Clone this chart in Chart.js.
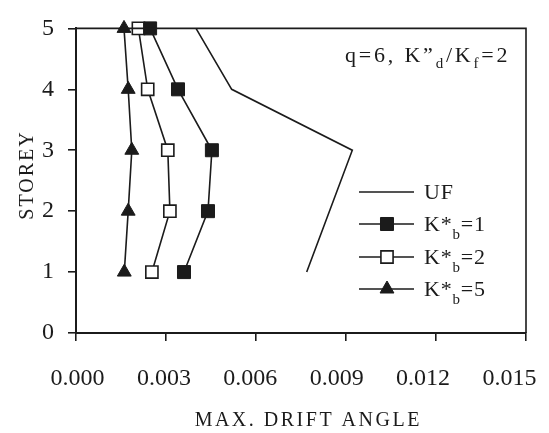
<!DOCTYPE html>
<html>
<head>
<meta charset="utf-8">
<script src="https://cdn.jsdelivr.net/npm/chart.js@4.4.1/dist/chart.umd.min.js"></script>
<style>
    html, body { margin: 0; padding: 0; background: #fff; }
    #chart { display: block; }
</style>
</head>
<body>
<canvas id="chart" width="549" height="433"></canvas>
<script>
// DATOS
const storeys = [1, 2, 3, 4, 5];
const driftUF = [0.00769, null, 0.00921, 0.00519, 0.00400];
const driftKb1 = [0.00360, 0.00440, 0.00453, 0.00340, 0.00247];
const driftKb2 = [0.00253, 0.00313, 0.00306, 0.00239, 0.00208];
const driftKb5 = [0.00161, 0.00174, 0.00186, 0.00174, 0.00160];

const xTickValues = [0, 0.003, 0.006, 0.009, 0.012, 0.015];
const xTickLabels = ["0.000", "0.003", "0.006", "0.009", "0.012", "0.015"];
const yTickValues = [0, 1, 2, 3, 4, 5];

// leyenda: texto, subindice, resto
const legendMain = ["UF", "K*", "K*", "K*"];
const legendSub = ["", "b", "b", "b"];
const legendTail = ["", "=1", "=2", "=5"];

const xTitle = "MAX. DRIFT ANGLE";
const yTitle = "STOREY";

const ink = "#1b1b1b";
const serif = '"Liberation Serif", "Times New Roman", serif';

// the printed labels sit a little closer together than the ticks
const xLabelMin = -0.0000521;
const xLabelMax = 0.0155729;

function toPoints(values) {
    return storeys
        .map((s, i) => ({ x: values[i], y: s }))
        .filter((p) => p.x !== null);
}

const datasets = [
    { label: "UF", data: toPoints(driftUF), pointRadius: 0, pointStyle: false },
    { label: "Kb1", data: toPoints(driftKb1), pointStyle: "rect", pointRadius: 9.2, pointBackgroundColor: ink },
    { label: "Kb2", data: toPoints(driftKb2), pointStyle: "rect", pointRadius: 8.6, pointBackgroundColor: "#fff", pointBorderWidth: 1.6 },
    { label: "Kb5", data: toPoints(driftKb5), pointStyle: "triangle", pointRadius: 8, pointBackgroundColor: ink },
].map((d) => ({
    borderColor: ink,
    borderWidth: 1.6,
    pointBorderColor: ink,
    pointBorderWidth: 1,
    showLine: true,
    spanGaps: true,
    clip: false,
    ...d,
}));

// DIBUJO DE MARCO, LEYENDA Y TEXTOS
function drawParts(ctx, parts, x, y) {
    for (const [text, size, dy] of parts) {
        if (!text) continue;
        ctx.font = size + "px " + serif;
        ctx.fillText(text, x, y + dy);
        x += ctx.measureText(text).width;
    }
}

const extrasPlugin = {
    id: "extras",
    afterDraw(chart) {
        const ctx = chart.ctx;
        const area = chart.chartArea;
        ctx.save();

        // marco superior y derecho
        ctx.strokeStyle = ink;
        ctx.lineWidth = 1.6;
        ctx.beginPath();
        ctx.moveTo(area.left, area.top);
        ctx.lineTo(area.right, area.top);
        ctx.lineTo(area.right, area.bottom);
        ctx.stroke();

        ctx.fillStyle = ink;
        ctx.textBaseline = "alphabetic";
        ctx.textAlign = "left";

        // titulo eje x
        ctx.letterSpacing = "2.5px";
        ctx.font = "20px " + serif;
        let w = ctx.measureText(xTitle).width - 2.5;
        ctx.fillText(xTitle, 307 - w / 2, 426);

        // titulo eje y
        ctx.letterSpacing = "2px";
        w = ctx.measureText(yTitle).width - 2;
        ctx.save();
        ctx.translate(33, 176);
        ctx.rotate(-Math.PI / 2);
        ctx.fillText(yTitle, -w / 2, 0);
        ctx.restore();

        // anotacion
        ctx.letterSpacing = "2.8px";
        drawParts(ctx, [
            ["q=6, K\u201D", 22, 0],
            ["d", 15, 6],
            ["/K", 22, 0],
            ["f", 15, 6],
            ["=2", 22, 0],
        ], 345, 62);

        // leyenda
        const rowY = [192, 224, 257, 289];
        chart.data.datasets.forEach((ds, i) => {
            const y = rowY[i];
            ctx.letterSpacing = "0px";
            ctx.strokeStyle = ink;
            ctx.lineWidth = 1.6;
            ctx.beginPath();
            ctx.moveTo(359, y);
            ctx.lineTo(414, y);
            ctx.stroke();
            if (ds.pointStyle) {
                ctx.fillStyle = ds.pointBackgroundColor;
                ctx.strokeStyle = ink;
                ctx.lineWidth = ds.pointBorderWidth;
                Chart.helpers.drawPoint(ctx, { pointStyle: ds.pointStyle, radius: ds.pointRadius, rotation: 0, borderWidth: ds.pointBorderWidth }, 387, y);
            }
            ctx.fillStyle = ink;
            ctx.letterSpacing = "0.8px";
            drawParts(ctx, [
                [legendMain[i], 22, 0],
                [legendSub[i], 15, 8],
                [legendTail[i], 22, 0],
            ], 424, y + 7);
        });

        ctx.restore();
    },
};

const tickGrid = {
    drawOnChartArea: false,
    drawTicks: true,
    tickLength: 8,
    color: ink,
    lineWidth: 1.6,
};

new Chart(document.getElementById("chart"), {
    type: "scatter",
    data: { datasets },
    options: {
        responsive: false,
        animation: false,
        events: [],
        layout: { padding: { top: 20, right: 23, left: 0, bottom: 0 } },
        plugins: { legend: { display: false }, tooltip: { enabled: false } },
        scales: {
            x: {
                type: "linear",
                position: "bottom",
                weight: 0,
                min: 0,
                max: 0.015,
                afterBuildTicks: (s) => { s.ticks = xTickValues.map((v) => ({ value: v })); },
                ticks: { display: false },
                grid: tickGrid,
                border: { color: ink, width: 2 },
                afterFit: (s) => { s.height = 31; },
            },
            xl: {
                type: "linear",
                position: "bottom",
                weight: 1,
                min: xLabelMin,
                max: xLabelMax,
                afterBuildTicks: (s) => { s.ticks = xTickValues.map((v) => ({ value: v })); },
                ticks: {
                    color: ink,
                    padding: 0,
                    maxRotation: 0,
                    autoSkip: false,
                    font: { family: serif, size: 24 },
                    callback: (v, i) => xTickLabels[i],
                },
                grid: { display: false, drawTicks: false },
                border: { display: false },
                afterFit: (s) => { s.height = 69; },
            },
            y: {
                type: "linear",
                min: 0,
                max: 5,
                afterBuildTicks: (s) => { s.ticks = yTickValues.map((v) => ({ value: v })); },
                ticks: {
                    color: ink,
                    padding: 14,
                    font: { family: serif, size: 24 },
                },
                grid: tickGrid,
                border: { color: ink, width: 2 },
                afterFit: (s) => { s.width = 76; },
            },
        },
    },
    plugins: [extrasPlugin],
});
</script>
</body>
</html>
